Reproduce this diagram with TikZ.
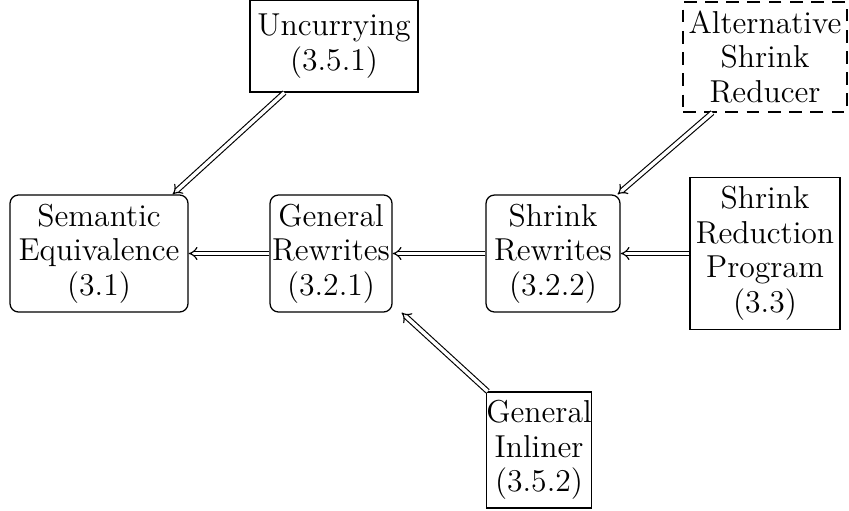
\documentclass[tikz,border=0pt]{standalone}
\usetikzlibrary{arrows.meta,calc}
\def\u{0.35336pt}
\tikzset{
  box/.style 2 args={draw, line width=0.45pt, inner sep=0pt, align=center,
    minimum width=#1*\u, minimum height=#2*\u,
    font=\fontsize{11.2}{12.2}\selectfont},
  rbox/.style={rounded corners=3pt},
  dbox/.style={dash pattern=on 4.5pt off 3pt},
  dar/.style={double, double distance=1.2pt, line width=0.4pt, -{Implies}},
}
\begin{document}
\begin{tikzpicture}[x=0.35336pt, y=-0.35336pt]
\useasboundingbox (0,0) rectangle (849,510);
\node[box={168}{92}] (unc) at (334,46) {Uncurrying\\(3.5.1)};
\node[box={164}{110}, dbox] (alt) at (765,57) {Alternative\\Shrink\\Reducer};
\node[box={178}{117}, rbox] (sem) at (99,253.5) {Semantic\\Equivalence\\(3.1)};
\node[box={122}{117}, rbox] (gr) at (331,253.5) {General\\Rewrites\\(3.2.1)};
\node[box={134}{117}, rbox] (sr) at (553,253.5) {Shrink\\Rewrites\\(3.2.2)};
\node[box={150}{152}] (srp) at (765,253.5) {Shrink\\Reduction\\Program\\(3.3)};
\node[box={96}{116}] (gi) at (539,450) {General\\Inliner\\(3.5.2)};
\draw[dar] ($(unc.south west)+(35,0)$) -- ($(sem.north east)+(-16,0)$);
\draw[dar] ($(alt.south west)+(30,0)$) -- ($(sr.north east)+(-3,0)$);
\draw[dar] ($(gi.north west)+(2,0)$) -- ($(gr.south east)+(9,0)$);
\draw[dar] (gr.west) -- (sem.east);
\draw[dar] (sr.west) -- (gr.east);
\draw[dar] (srp.west) -- (sr.east);
\end{tikzpicture}
\end{document}
